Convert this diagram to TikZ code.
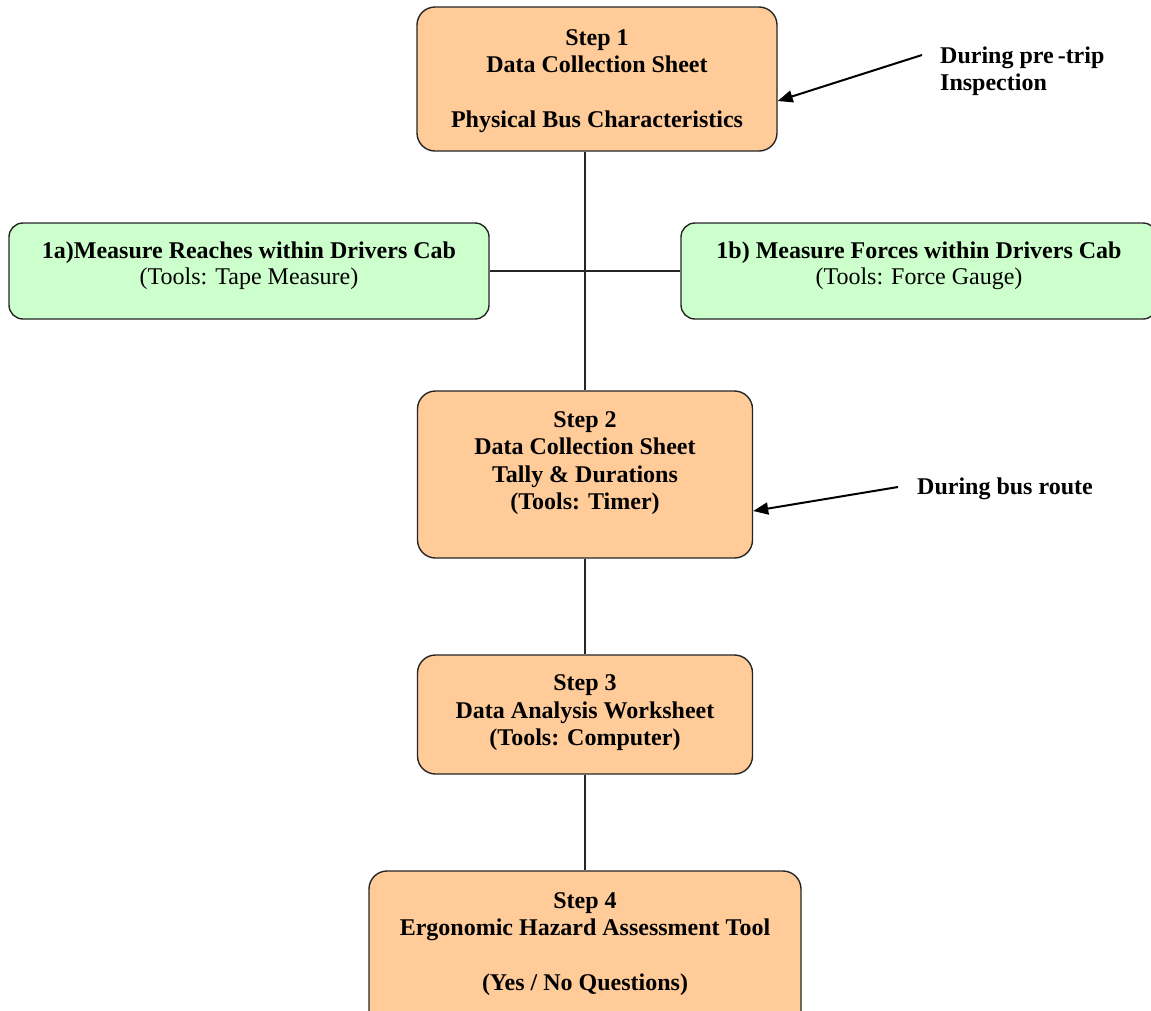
\documentclass[tikz,border=0pt]{standalone}
\usepackage{fontspec}
\setmainfont{Liberation Serif}
\usetikzlibrary{arrows.meta}
\definecolor{stepfill}{HTML}{FFCC99}
\definecolor{subfill}{HTML}{CCFFCC}
\tikzset{
  stepbox/.style={draw=black!85, line width=1.4pt, rounded corners=18pt, fill=stepfill, inner sep=0pt},
  subbox/.style={draw=black!85, line width=1.4pt, rounded corners=14pt, fill=subfill, inner sep=0pt},
  txt/.style={inner sep=0pt, align=center, font=\fontsize{24}{27.5}\selectfont\bfseries},
  subtxt/.style={inner sep=0pt, align=center, font=\fontsize{24}{26.5}\selectfont},
  notetxt/.style={inner sep=0pt, align=left, font=\fontsize{24}{27.5}\selectfont\bfseries},
  link/.style={line width=1.4pt, draw=black!85},
  pointer/.style={line width=2pt, -{Triangle[length=15pt,width=12pt]}},
}
\begin{document}
\begin{tikzpicture}[x=1pt,y=-1pt]
\useasboundingbox (0,0) rectangle (1151,1010);
\clip (0,0) rectangle (1151,1010);
\coordinate (axis) at (585,0);
% connectors (drawn first, boxes cover their ends)
\node[stepbox, minimum width=360pt, minimum height=144pt] (s1) at (597,79) {};
\node[subbox, minimum width=480pt, minimum height=96pt] (s1a) at (249,271) {};
\node[subbox, minimum width=476pt, minimum height=96pt] (s1b) at (919,271) {};
\node[stepbox, minimum width=335pt, minimum height=167pt] (s2) at (585,474.5) {};
\node[stepbox, minimum width=335pt, minimum height=119pt] (s3) at (585,714.5) {};
\node[stepbox, minimum width=432pt, minimum height=160pt] (s4) at (585,951) {};
\draw[link] (s1.south -| axis) -- (s2.north -| axis);
\draw[link] (s1a.east) -- (s1b.west);
\draw[link] (s2.south -| axis) -- (s3.north -| axis);
\draw[link] (s3.south -| axis) -- (s4.north -| axis);
% texts
\node[txt] (t1) at (597,81) {Step 1\\Data Collection Sheet\\[27.5pt]Physical Bus Characteristics};
\node[txt, anchor=base] (t1a) at (249,258) {1a)Measure Reaches within Drivers Cab};
\node[subtxt, anchor=base] (t1a2) at (249,284) {(Tools: Tape Measure)};
\node[txt, anchor=base] (t1b) at (919,258) {1b) Measure Forces within Drivers Cab};
\node[subtxt, anchor=base] (t1b2) at (919,284) {(Tools: Force Gauge)};
\node[txt] (t2) at (585,463) {Step 2\\Data Collection Sheet\\Tally \& Durations\\(Tools: Timer)};
\node[txt] (t3) at (585,713) {Step 3\\Data Analysis Worksheet\\(Tools: Computer)};
\node[txt] (t4) at (585,944) {Step 4\\Ergonomic Hazard Assessment Tool\\[27.5pt](Yes / No Questions)};
% notes
\node[notetxt, anchor=base west] (n1) at (940,63) {During pre\hspace{4pt}-trip};
\node[notetxt, anchor=base west] (n1b) at (940,90) {Inspection};
\node[notetxt, anchor=base west] (n2) at (917,494) {During bus route};
\coordinate (a1) at (922,55);
\coordinate (a2) at (898,487);
\draw[pointer] (a1) -- (s1.east |- 0,101);
\draw[pointer] (a2) -- (s2.east |- 0,511);
\end{tikzpicture}
\end{document}
